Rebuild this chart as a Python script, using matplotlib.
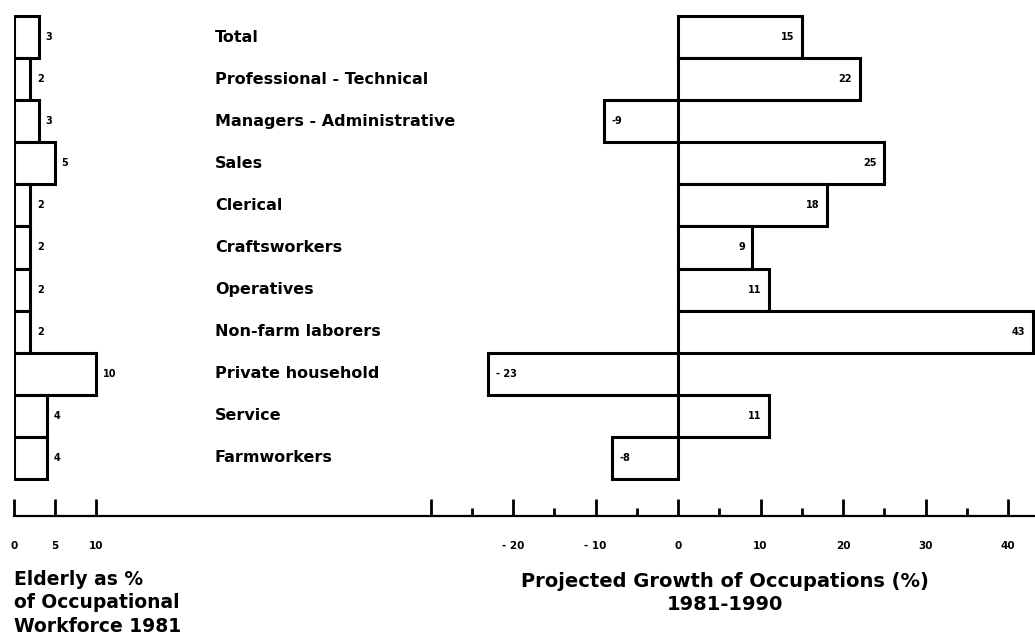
import matplotlib
matplotlib.use('Agg')
import matplotlib.pyplot as plt
import matplotlib.transforms as mtransforms
import numpy as np

plt.rcParams['font.family'] = ['DejaVu Sans']
plt.rcParams['font.weight'] = 'bold'

# Daten
occupations = ['Total', 'Professional - Technical', 'Managers - Administrative', 'Sales',
               'Clerical', 'Craftsworkers', 'Operatives', 'Non-farm laborers',
               'Private household', 'Service', 'Farmworkers']
elderly_pct = [3, 2, 3, 5, 2, 2, 2, 2, 10, 4, 4]
growth_pct = [15, 22, -9, 25, 18, 9, 11, 43, -23, 11, -8]
growth_ticks = [-30, -20, -10, 0, 10, 20, 30, 40]
growth_ticklabels = ['', '- 20', '- 10', '0', '10', '20', '30', '40']
elderly_ticks = [0, 5, 10]

W, H = 1035, 643
fig = plt.figure(figsize=(W / 100, H / 100), dpi=100)

# Achsenlayout in Pixeln
x0 = 14
y_axis = 516
zero_px = 678
px_per_unit = 8.25
left_px_per_unit = 8.2
row_gap = 42.1
first_row = 37

ytop = -first_row / row_gap
ybot = (len(occupations) - 1) + (y_axis - (first_row + (len(occupations) - 1) * row_gap)) / row_gap

bottom = (H - y_axis) / H
height = y_axis / H

ax_r = fig.add_axes([x0 / W, bottom, (W - x0) / W, height])
ax_l = fig.add_axes([x0 / W, bottom, 200 / W, height])
for ax in (ax_l, ax_r):
    ax.set_facecolor('none')
    ax.set_ylim(ybot, ytop)
    ax.set_yticks([])
    for s in ['top', 'right', 'left']:
        ax.spines[s].set_visible(False)

y = np.arange(len(occupations))

# rechter Plot: Wachstum
ax_r.set_xlim((x0 - zero_px) / px_per_unit, (W - zero_px) / px_per_unit)
ax_r.barh(y, growth_pct, height=1.0, color='white', edgecolor='black', linewidth=2.2, zorder=2)
for yi, v in zip(y, growth_pct):
    if v >= 0:
        ax_r.text(v - 0.9, yi, str(v), ha='right', va='center', fontsize=7, fontweight='bold', zorder=3)
    else:
        ax_r.text(v + 0.9, yi, '- ' + str(abs(v)) if v < -10 else str(v), ha='left', va='center',
                  fontsize=7, fontweight='bold', zorder=3)
ax_r.spines['bottom'].set_linewidth(1.6)
ax_r.set_xticks(growth_ticks)
ax_r.set_xticklabels(growth_ticklabels)
ax_r.set_xticks(np.arange(-25, 40, 10), minor=True)
ax_r.tick_params(axis='x', which='major', direction='in', length=12, width=2, pad=18, labelsize=7.5)
ax_r.tick_params(axis='x', which='minor', direction='in', length=6, width=2)

# linker Plot: Anteil Aeltere
ax_l.set_xlim(0, 200 / left_px_per_unit)
ax_l.barh(y, elderly_pct, height=1.0, color='white', edgecolor='black', linewidth=2.2, zorder=2)
for yi, v in zip(y, elderly_pct):
    ax_l.text(v + 0.8, yi, str(v), ha='left', va='center', fontsize=7, fontweight='bold')
ax_l.spines['bottom'].set_visible(False)
ax_l.set_xticks(elderly_ticks)
ax_l.tick_params(axis='x', direction='in', length=12, width=2, pad=18, labelsize=7.5)

# Kategorien
trans = mtransforms.blended_transform_factory(fig.transFigure, ax_r.transData)
for yi, name in zip(y, occupations):
    ax_r.text(215 / W, yi, name, transform=trans, ha='left', va='center', fontsize=11.5, fontweight='bold')

# Achsentitel
fig.text(x0 / W, 1 - 570 / H, 'Elderly as %\nof Occupational\nWorkforce 1981', ha='left', va='top',
         fontsize=13.5, fontweight='bold', linespacing=1.3)
fig.text(725 / W, 1 - 572 / H, 'Projected Growth of Occupations (%)\n1981-1990', ha='center', va='top',
         fontsize=14, fontweight='bold', linespacing=1.25)

fig.savefig('out.png', dpi=100)
